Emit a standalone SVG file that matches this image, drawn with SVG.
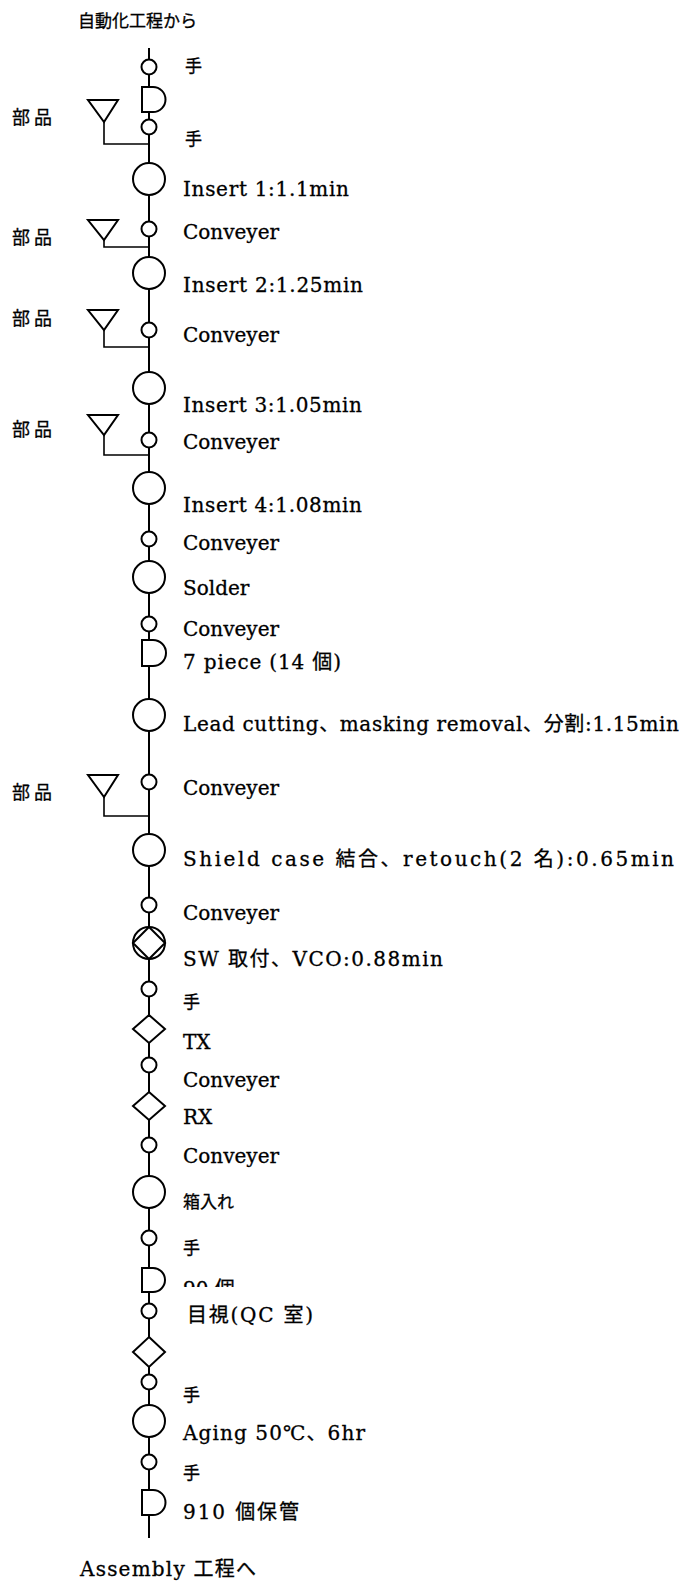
<svg xmlns="http://www.w3.org/2000/svg" width="686" height="1585" viewBox="0 0 686 1585">
<style>
.n{fill:#fff;stroke:#000;stroke-width:2}
.ln{fill:none;stroke:#000;stroke-width:2}
.br{fill:none;stroke:#000;stroke-width:1.6}
.t{font-family:"DejaVu Serif","Noto Sans CJK JP",serif;font-size:20px;fill:#000;stroke:#000;stroke-width:0.3}
.j{font-family:"Noto Sans CJK JP",sans-serif;font-size:17px;fill:#000;stroke:#000;stroke-width:0.3}
.p{font-family:"Noto Sans CJK JP",sans-serif;font-size:18px;letter-spacing:4px;fill:#000;stroke:#000;stroke-width:0.3}
</style>
<defs>
<clipPath id="clip90"><rect x="178" y="1262" width="90" height="25"/></clipPath>
</defs>
<rect width="686" height="1585" fill="#fff"/>
<g id="connectors">
<line class="ln" x1="149" y1="48" x2="149" y2="1538"/>
<path class="br" d="M104,122 V144 H149"/>
<path class="br" d="M104,240 V247 H149"/>
<path class="br" d="M104,330 V347 H149"/>
<path class="br" d="M104,435 V455 H149"/>
<path class="br" d="M104,797 V816 H149"/>
</g>
<g id="title"><text class="j" x="78" y="27" textLength="119">自動化工程から</text></g>
<g id="n1"><circle class="n" cx="149" cy="67" r="7.5"/><text class="j" x="185" y="72">手</text></g>
<g id="n2"><path class="n" d="M142,87 H153 A12.5,12.5 0 0 1 153,112 H142 Z"/></g>
<g id="n3"><circle class="n" cx="149" cy="127" r="7.5"/><text class="j" x="185" y="145">手</text></g>
<g id="p1"><polygon class="n" points="88,100 118,100 104,122"/><text class="p" x="12" y="124">部品</text></g>
<g id="n4"><circle class="n" cx="149" cy="179" r="16"/><text class="t" x="183" y="196" textLength="166">Insert 1:1.1min</text></g>
<g id="n5"><circle class="n" cx="149" cy="229" r="7.5"/><text class="t" x="183" y="239">Conveyer</text></g>
<g id="p2"><polygon class="n" points="88,220 118,220 104,240"/><text class="p" x="12" y="244">部品</text></g>
<g id="n6"><circle class="n" cx="149" cy="273" r="16"/><text class="t" x="183" y="292" textLength="180">Insert 2:1.25min</text></g>
<g id="n7"><circle class="n" cx="149" cy="330" r="7.5"/><text class="t" x="183" y="342">Conveyer</text></g>
<g id="p3"><polygon class="n" points="88,310 118,310 104,330"/><text class="p" x="12" y="325">部品</text></g>
<g id="n8"><circle class="n" cx="149" cy="388" r="16"/><text class="t" x="183" y="412" textLength="179">Insert 3:1.05min</text></g>
<g id="n9"><circle class="n" cx="149" cy="440" r="7.5"/><text class="t" x="183" y="449">Conveyer</text></g>
<g id="p4"><polygon class="n" points="88,415 118,415 104,435"/><text class="p" x="12" y="436">部品</text></g>
<g id="n10"><circle class="n" cx="149" cy="488" r="16"/><text class="t" x="183" y="512" textLength="179">Insert 4:1.08min</text></g>
<g id="n11"><circle class="n" cx="149" cy="539" r="7.5"/><text class="t" x="183" y="550">Conveyer</text></g>
<g id="n12"><circle class="n" cx="149" cy="577" r="16"/><text class="t" x="183" y="595">Solder</text></g>
<g id="n13"><circle class="n" cx="149" cy="624" r="7.5"/><text class="t" x="183" y="636">Conveyer</text></g>
<g id="n14"><path class="n" d="M142,640 H153 A13,13 0 0 1 153,666 H142 Z"/><text class="t" x="183" y="669" textLength="158">7 piece (14 個)</text></g>
<g id="n15"><circle class="n" cx="149" cy="715" r="16"/><text class="t" x="183" y="731" textLength="496">Lead cutting、masking removal、分割:1.15min</text></g>
<g id="n16"><circle class="n" cx="149" cy="782" r="7.5"/><text class="t" x="183" y="795">Conveyer</text></g>
<g id="p5"><polygon class="n" points="88,775 118,775 104,797"/><text class="p" x="12" y="799">部品</text></g>
<g id="n17"><circle class="n" cx="149" cy="850" r="16"/><text class="t" x="183" y="866" textLength="491">Shield case  結合、retouch(2 名):0.65min</text></g>
<g id="n18"><circle class="n" cx="149" cy="905" r="7.5"/><text class="t" x="183" y="920">Conveyer</text></g>
<g id="n19"><circle class="n" cx="149" cy="943" r="16"/><polygon class="n" points="149,927 165,943 149,959 133,943"/><text class="t" x="183" y="966" textLength="260">SW 取付、VCO:0.88min</text></g>
<g id="n20"><circle class="n" cx="149" cy="989" r="7.5"/><text class="j" x="183" y="1008">手</text></g>
<g id="n21"><polygon class="n" points="149,1015 165,1029 149,1043 133,1029"/><text class="t" x="183" y="1049">TX</text></g>
<g id="n22"><circle class="n" cx="149" cy="1065" r="7.5"/><text class="t" x="183" y="1087">Conveyer</text></g>
<g id="n23"><polygon class="n" points="149,1092 165,1106 149,1120 133,1106"/><text class="t" x="183" y="1124">RX</text></g>
<g id="n24"><circle class="n" cx="149" cy="1145" r="7.5"/><text class="t" x="183" y="1163">Conveyer</text></g>
<g id="n25"><circle class="n" cx="149" cy="1192" r="16"/><text class="j" x="183" y="1208" textLength="51">箱入れ</text></g>
<g id="n26"><circle class="n" cx="149" cy="1238" r="7.5"/><text class="j" x="183" y="1254">手</text></g>
<g id="n27"><path class="n" d="M142,1268 H153 A12,12 0 0 1 153,1292 H142 Z"/><text class="t" x="183" y="1296" clip-path="url(#clip90)">90 個</text></g>
<g id="n28"><circle class="n" cx="149" cy="1311" r="7.5"/><text class="t" x="187" y="1322" textLength="126">目視(QC 室)</text></g>
<g id="n29"><polygon class="n" points="149,1337 165,1352 149,1367 133,1352"/></g>
<g id="n30"><circle class="n" cx="149" cy="1382" r="7.5"/><text class="j" x="183" y="1401">手</text></g>
<g id="n31"><circle class="n" cx="149" cy="1421" r="16"/><text class="t" x="183" y="1440" textLength="182">Aging 50℃、6hr</text></g>
<g id="n32"><circle class="n" cx="149" cy="1462" r="7.5"/><text class="j" x="183" y="1479">手</text></g>
<g id="n33"><path class="n" d="M142,1490 H153 A12.5,12.5 0 0 1 153,1515 H142 Z"/><text class="t" x="183" y="1519" textLength="116">910 個保管</text></g>
<g id="end"><text class="t" x="80" y="1576" textLength="176">Assembly  工程へ</text></g>
</svg>
